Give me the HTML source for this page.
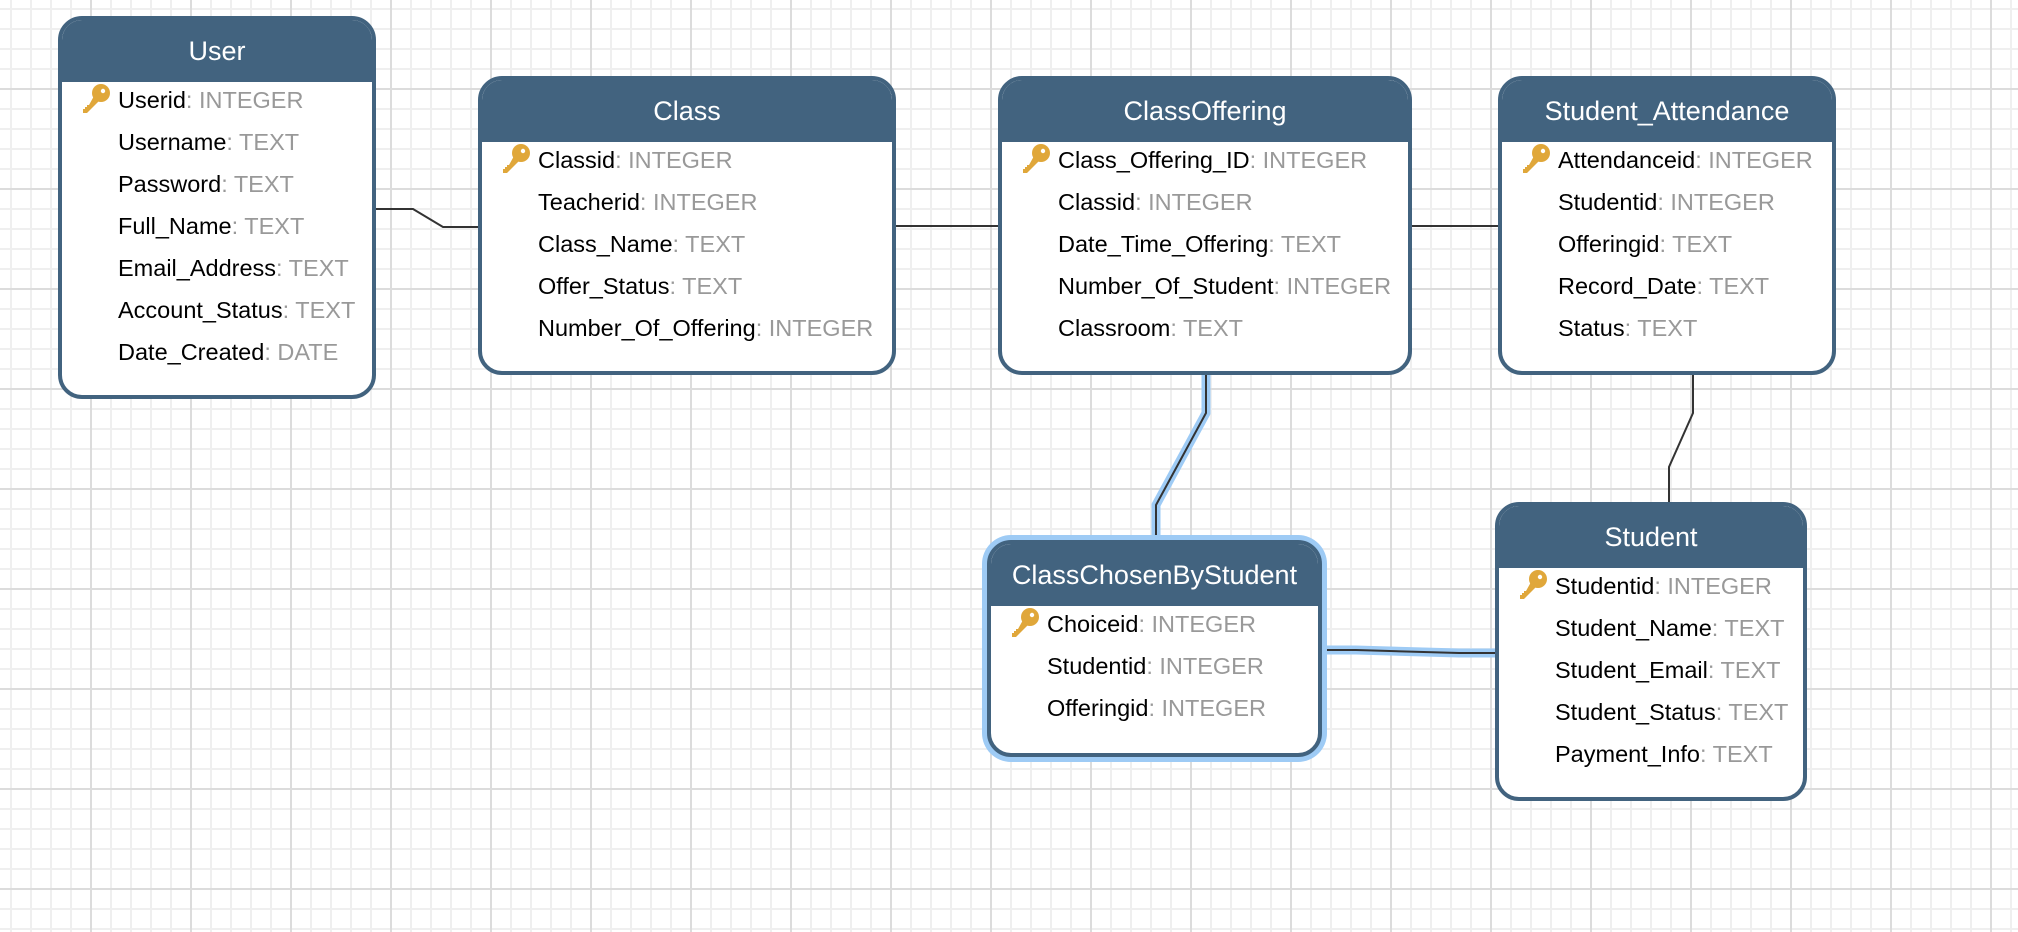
<!DOCTYPE html>
<html><head><meta charset="utf-8"><style>
html,body{margin:0;padding:0}
body{width:2018px;height:932px;position:relative;overflow:hidden;background-color:#fff;
background-image:
linear-gradient(to right,#dcdcdc 0,#dcdcdc 2px,transparent 2px),
linear-gradient(to bottom,#dcdcdc 0,#dcdcdc 2px,transparent 2px),
linear-gradient(to right,#efefef 0,#efefef 2px,transparent 2px),
linear-gradient(to bottom,#efefef 0,#efefef 2px,transparent 2px);
background-size:100px 100px,100px 100px,20px 20px,20px 20px;
background-position:90px 0,0 88px,10px 0,0 8px;
font-family:"Liberation Sans",Arial,sans-serif}
.box{position:absolute;border:4px solid #42637f;border-radius:24px;background:#fff;overflow:hidden;box-sizing:border-box}
.hd{background:#42637f;color:#fff;font-size:27px;text-align:center;height:62px;line-height:62px}
.row{position:relative;height:42px;font-size:23.5px;color:#000;white-space:nowrap}
.row span{color:#999}
.row .t{position:absolute;left:56px;top:5px}
.key{position:absolute;left:18px;top:0px}
svg.c{position:absolute;left:0;top:0}
</style></head><body>
<svg class="c" width="2018" height="932">
<polyline points="376,209 413,209 443,227 478,227" fill="none" stroke="#333" stroke-width="2"/>
<line x1="896" y1="226" x2="998" y2="226" stroke="#333" stroke-width="2"/>
<line x1="1412" y1="226" x2="1498" y2="226" stroke="#333" stroke-width="2"/>
<polyline points="1693,375 1693,413 1669,467 1669,503" fill="none" stroke="#333" stroke-width="2"/>
<polyline points="1206,375 1206,413 1156,505 1156,540" fill="none" stroke="#9ecbf5" stroke-width="9"/>
<polyline points="1206,375 1206,413 1156,505 1156,540" fill="none" stroke="#333" stroke-width="2"/>
<polyline points="1322,650 1356,650 1459,653 1495,653" fill="none" stroke="#9ecbf5" stroke-width="9"/>
<polyline points="1322,650 1356,650 1459,653 1495,653" fill="none" stroke="#333" stroke-width="2"/>
</svg>

<svg width="0" height="0" style="position:absolute"><defs>
<g id="k"><circle cx="21" cy="11" r="9" fill="#e0a73a"/><circle cx="23" cy="9" r="2.2" fill="#fff"/><polygon points="14,14 19,19 7,31 3,31 3,27 5,27 5,25 7,25 7,23 9,23" fill="#e0a73a"/></g>
</defs></svg>

<div class="box" style="left:58px;top:16px;width:318px;height:383px">
<div class="hd">User</div>
<div class="row"><svg class="key" width="32" height="32"><use href="#k"/></svg><div class="t">Userid<span>: INTEGER</span></div></div>
<div class="row"><div class="t">Username<span>: TEXT</span></div></div>
<div class="row"><div class="t">Password<span>: TEXT</span></div></div>
<div class="row"><div class="t">Full_Name<span>: TEXT</span></div></div>
<div class="row"><div class="t">Email_Address<span>: TEXT</span></div></div>
<div class="row"><div class="t">Account_Status<span>: TEXT</span></div></div>
<div class="row"><div class="t">Date_Created<span>: DATE</span></div></div>
</div>

<div class="box" style="left:478px;top:76px;width:418px;height:299px">
<div class="hd">Class</div>
<div class="row"><svg class="key" width="32" height="32"><use href="#k"/></svg><div class="t">Classid<span>: INTEGER</span></div></div>
<div class="row"><div class="t">Teacherid<span>: INTEGER</span></div></div>
<div class="row"><div class="t">Class_Name<span>: TEXT</span></div></div>
<div class="row"><div class="t">Offer_Status<span>: TEXT</span></div></div>
<div class="row"><div class="t">Number_Of_Offering<span>: INTEGER</span></div></div>
</div>

<div class="box" style="left:998px;top:76px;width:414px;height:299px">
<div class="hd">ClassOffering</div>
<div class="row"><svg class="key" width="32" height="32"><use href="#k"/></svg><div class="t">Class_Offering_ID<span>: INTEGER</span></div></div>
<div class="row"><div class="t">Classid<span>: INTEGER</span></div></div>
<div class="row"><div class="t">Date_Time_Offering<span>: TEXT</span></div></div>
<div class="row"><div class="t">Number_Of_Student<span>: INTEGER</span></div></div>
<div class="row"><div class="t">Classroom<span>: TEXT</span></div></div>
</div>

<div class="box" style="left:1498px;top:76px;width:338px;height:299px">
<div class="hd">Student_Attendance</div>
<div class="row"><svg class="key" width="32" height="32"><use href="#k"/></svg><div class="t">Attendanceid<span>: INTEGER</span></div></div>
<div class="row"><div class="t">Studentid<span>: INTEGER</span></div></div>
<div class="row"><div class="t">Offeringid<span>: TEXT</span></div></div>
<div class="row"><div class="t">Record_Date<span>: TEXT</span></div></div>
<div class="row"><div class="t">Status<span>: TEXT</span></div></div>
</div>

<div class="box" style="left:1495px;top:502px;width:312px;height:299px">
<div class="hd">Student</div>
<div class="row"><svg class="key" width="32" height="32"><use href="#k"/></svg><div class="t">Studentid<span>: INTEGER</span></div></div>
<div class="row"><div class="t">Student_Name<span>: TEXT</span></div></div>
<div class="row"><div class="t">Student_Email<span>: TEXT</span></div></div>
<div class="row"><div class="t">Student_Status<span>: TEXT</span></div></div>
<div class="row"><div class="t">Payment_Info<span>: TEXT</span></div></div>
</div>

<div class="box" style="left:987px;top:540px;width:335px;height:217px;box-shadow:0 0 0 5px #9ecbf5">
<div class="hd">ClassChosenByStudent</div>
<div class="row"><svg class="key" width="32" height="32"><use href="#k"/></svg><div class="t">Choiceid<span>: INTEGER</span></div></div>
<div class="row"><div class="t">Studentid<span>: INTEGER</span></div></div>
<div class="row"><div class="t">Offeringid<span>: INTEGER</span></div></div>
</div>
</body></html>
